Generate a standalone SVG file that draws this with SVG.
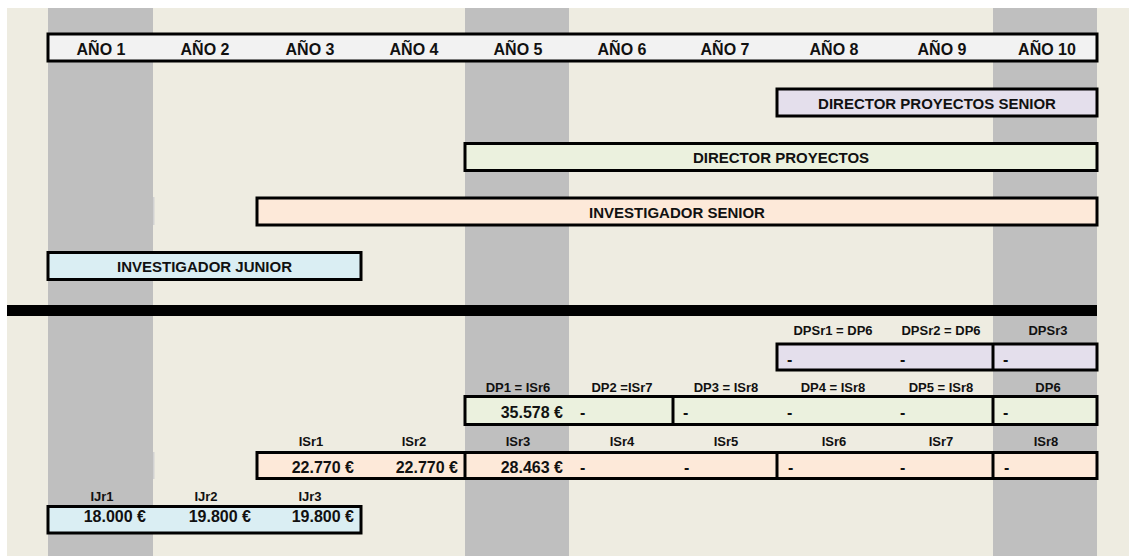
<svg xmlns="http://www.w3.org/2000/svg" width="1129" height="556" viewBox="0 0 1129 556">
<style>
 .t{font-family:"Liberation Sans",Arial,sans-serif;font-weight:bold;fill:#111}
 .hd{font-size:16px;text-anchor:middle}
 .bar{font-size:15px;text-anchor:middle}
 .lb{font-size:13px;text-anchor:middle}
 .v{font-size:16px;text-anchor:end}
 .d{font-size:16px}
 .box{stroke:#000;stroke-width:3}
 .ln{stroke:#000;stroke-width:3}
 .gcol{fill:#BFBFBF}
</style>
<rect width="1129" height="556" fill="#FFFFFF"/>
<rect x="7" y="8" width="1122" height="548" fill="#EEECE1"/>
<g id="columns">
 <rect class="gcol" x="48" y="8" width="105" height="548"/>
 <rect class="gcol" x="465" y="8" width="104" height="548"/>
 <rect class="gcol" x="993" y="8" width="104" height="548"/>
 <rect x="153" y="197" width="1.5" height="28" fill="#D2D2D2"/>
 <rect x="153" y="452" width="1.5" height="27" fill="#D2D2D2"/>
</g>
<g id="header">
 <rect class="box" x="48" y="34" width="1049" height="27" fill="#F2F2F2"/>
 <text class="t hd" x="101" y="55">AÑO 1</text>
 <text class="t hd" x="205" y="55">AÑO 2</text>
 <text class="t hd" x="310" y="55">AÑO 3</text>
 <text class="t hd" x="414" y="55">AÑO 4</text>
 <text class="t hd" x="518" y="55">AÑO 5</text>
 <text class="t hd" x="622" y="55">AÑO 6</text>
 <text class="t hd" x="725" y="55">AÑO 7</text>
 <text class="t hd" x="834" y="55">AÑO 8</text>
 <text class="t hd" x="942" y="55">AÑO 9</text>
 <text class="t hd" x="1047" y="55">AÑO 10</text>
</g>
<g id="bar-dps">
 <rect class="box" x="777" y="89" width="320" height="27" fill="#E4DFEC"/>
 <text class="t bar" x="937" y="108.5">DIRECTOR PROYECTOS SENIOR</text>
</g>
<g id="bar-dp">
 <rect class="box" x="465" y="143.5" width="632" height="27" fill="#EBF1DE"/>
 <text class="t bar" x="781" y="163">DIRECTOR PROYECTOS</text>
</g>
<g id="bar-isr">
 <rect class="box" x="257" y="198" width="840" height="27" fill="#FDE9D9"/>
 <text class="t bar" x="677" y="217.5">INVESTIGADOR SENIOR</text>
</g>
<g id="bar-ijr">
 <rect class="box" x="48" y="252.5" width="313" height="27" fill="#DAEEF3"/>
 <text class="t bar" x="204.5" y="272">INVESTIGADOR JUNIOR</text>
</g>
<rect id="separator" x="7" y="305" width="1090" height="11" fill="#000"/>
<g id="row-dpsr">
 <text class="t lb" x="833" y="335">DPSr1 = DP6</text>
 <text class="t lb" x="941" y="335">DPSr2 = DP6</text>
 <text class="t lb" x="1048" y="335">DPSr3</text>
 <rect class="box" x="777" y="344" width="320" height="26" fill="#E4DFEC"/>
 <line class="ln" x1="993" y1="344" x2="993" y2="370"/>
 <text class="t d" x="787" y="364.5">-</text>
 <text class="t d" x="900" y="364.5">-</text>
 <text class="t d" x="1003" y="364.5">-</text>
</g>
<g id="row-dp">
 <text class="t lb" x="518" y="392">DP1 = ISr6</text>
 <text class="t lb" x="622" y="392">DP2 =ISr7</text>
 <text class="t lb" x="726" y="392">DP3 = ISr8</text>
 <text class="t lb" x="833" y="392">DP4 = ISr8</text>
 <text class="t lb" x="941" y="392">DP5 = ISr8</text>
 <text class="t lb" x="1048" y="392">DP6</text>
 <rect class="box" x="465" y="396.5" width="632" height="28" fill="#EBF1DE"/>
 <line class="ln" x1="673" y1="396.5" x2="673" y2="426"/>
 <line class="ln" x1="993" y1="396.5" x2="993" y2="424.5"/>
 <text class="t v" x="563" y="418">35.578 €</text>
 <text class="t d" x="580" y="417.5">-</text>
 <text class="t d" x="683" y="417.5">-</text>
 <text class="t d" x="787" y="417.5">-</text>
 <text class="t d" x="900" y="417.5">-</text>
 <text class="t d" x="1003" y="417.5">-</text>
</g>
<g id="row-isr">
 <text class="t lb" x="311" y="446">ISr1</text>
 <text class="t lb" x="414" y="446">ISr2</text>
 <text class="t lb" x="518" y="446">ISr3</text>
 <text class="t lb" x="622" y="446">ISr4</text>
 <text class="t lb" x="726" y="446">ISr5</text>
 <text class="t lb" x="834" y="446">ISr6</text>
 <text class="t lb" x="941" y="446">ISr7</text>
 <text class="t lb" x="1046" y="446">ISr8</text>
 <rect class="box" x="257" y="452.5" width="840" height="26" fill="#FDE9D9"/>
 <line class="ln" x1="465" y1="452.5" x2="465" y2="478.5"/>
 <line class="ln" x1="777" y1="452.5" x2="777" y2="478.5"/>
 <line class="ln" x1="993" y1="452.5" x2="993" y2="478.5"/>
 <text class="t v" x="354" y="473">22.770 €</text>
 <text class="t v" x="458" y="473">22.770 €</text>
 <text class="t v" x="563" y="473">28.463 €</text>
 <text class="t d" x="580" y="472.5">-</text>
 <text class="t d" x="684" y="472.5">-</text>
 <text class="t d" x="788" y="472.5">-</text>
 <text class="t d" x="900" y="472.5">-</text>
 <text class="t d" x="1004" y="472.5">-</text>
</g>
<g id="row-ijr">
 <text class="t lb" x="102" y="501">IJr1</text>
 <text class="t lb" x="206" y="501">IJr2</text>
 <text class="t lb" x="310" y="501">IJr3</text>
 <rect class="box" x="48" y="506.5" width="313" height="26.5" fill="#DAEEF3"/>
 <text class="t v" x="146" y="522">18.000 €</text>
 <text class="t v" x="251" y="522">19.800 €</text>
 <text class="t v" x="354" y="522">19.800 €</text>
</g>
<g id="connectors"/>
</svg>
